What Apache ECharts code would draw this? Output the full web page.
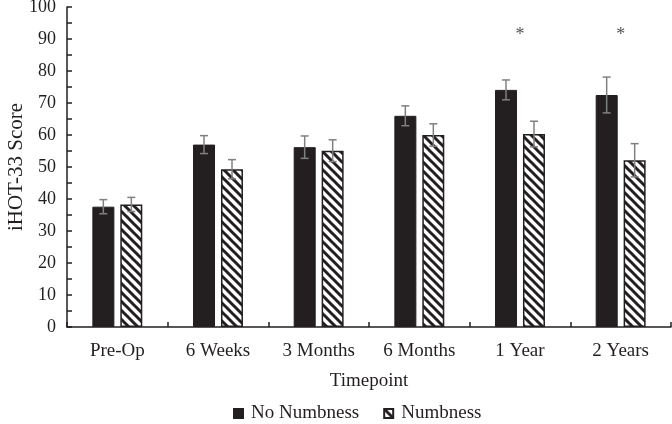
<!DOCTYPE html>
<html>
<head>
<meta charset="utf-8">
<script src="https://cdn.jsdelivr.net/npm/echarts@6/dist/echarts.min.js"></script>
<style>html,body{margin:0;padding:0;background:#fff}#c{width:672px;height:424px}</style>
</head>
<body>
<div id="c"></div>
<script>
var categories = ['Pre-Op', '6 Weeks', '3 Months', '6 Months', '1 Year', '2 Years'];
var noNumbness = [37.6, 57.0, 56.2, 66.0, 74.1, 72.5];
var noNumbnessErr = [2.2, 2.8, 3.5, 3.1, 3.1, 5.6];
var numbness = [38.3, 49.3, 55.1, 60.0, 60.3, 52.1];
var numbnessErr = [2.2, 3.0, 3.4, 3.5, 4.0, 5.2];
var significance = [null, null, null, null, '*', '*'];
var sigLevel = 92;
var yTicks = [0, 10, 20, 30, 40, 50, 60, 70, 80, 90, 100];

var FONT = '"Liberation Serif", "Times New Roman", serif';
var INK = '#231f20';

function hatch() {
  var s = 9;
  var cv = document.createElement('canvas');
  cv.width = s; cv.height = s;
  var g = cv.getContext('2d');
  g.fillStyle = '#fff'; g.fillRect(0, 0, s, s);
  g.strokeStyle = INK; g.lineWidth = 3;
  for (var k = -1; k <= 1; k++) {
    g.beginPath();
    g.moveTo(k * s - 2, -2);
    g.lineTo(k * s + s + 2, s + 2);
    g.stroke();
  }
  return cv;
}

var chart = echarts.init(document.getElementById('c'), null, {renderer: 'canvas'});

function errSeries(vals, errs, offset) {
  return {
    type: 'custom',
    silent: true,
    z: 5,
    data: vals.map(function (v, i) { return [i, v, errs[i]]; }),
    renderItem: function (params, api) {
      var i = api.value(0), v = api.value(1), e = api.value(2);
      var top = api.coord([i, v + e]);
      var bot = api.coord([i, v - e]);
      var x = top[0] + offset;
      var cap = 4;
      var st = {stroke: '#808080', lineWidth: 1.5};
      return {
        type: 'group',
        children: [
          {type: 'line', shape: {x1: x, y1: top[1], x2: x, y2: bot[1]}, style: st},
          {type: 'line', shape: {x1: x - cap, y1: top[1], x2: x + cap, y2: top[1]}, style: st},
          {type: 'line', shape: {x1: x - cap, y1: bot[1], x2: x + cap, y2: bot[1]}, style: st}
        ]
      };
    }
  };
}

var sigData = [];
significance.forEach(function (s, i) { if (s) sigData.push({value: [i, sigLevel], label: s}); });

chart.setOption({
  animation: false,
  textStyle: {fontFamily: FONT, color: INK},
  grid: {left: 67, right: 1, top: 7, bottom: 97, containLabel: false, outerBoundsMode: 'none'},
  legend: {
    top: 399,
    left: 228,
    icon: 'rect',
    itemWidth: 9,
    itemHeight: 9,
    itemGap: 24,
    textStyle: {fontFamily: FONT, fontSize: 19, color: INK, padding: [0, 0, 0, 3]},
    data: ['No Numbness', 'Numbness']
  },
  xAxis: {
    type: 'category',
    data: categories,
    name: 'Timepoint',
    nameLocation: 'middle',
    nameGap: 45,
    nameMoveOverlap: false,
    nameTextStyle: {fontFamily: FONT, fontSize: 19, color: INK},
    axisLine: {lineStyle: {color: INK, width: 1.5}},
    axisTick: {show: true, inside: true, length: 5, alignWithLabel: false, lineStyle: {color: INK, width: 1.5}},
    axisLabel: {fontFamily: FONT, fontSize: 19, color: INK, margin: 15}
  },
  yAxis: {
    type: 'value',
    min: yTicks[0],
    max: yTicks[yTicks.length - 1],
    interval: yTicks[1] - yTicks[0],
    name: 'iHOT-33 Score',
    nameLocation: 'middle',
    nameGap: 40,
    nameMoveOverlap: false,
    nameTextStyle: {fontFamily: FONT, fontSize: 21, color: INK},
    axisLine: {show: true, lineStyle: {color: INK, width: 1.5}},
    axisTick: {show: true, inside: true, length: 5, lineStyle: {color: INK, width: 1.5}},
    minorTick: {show: true, splitNumber: 2, length: 5, lineStyle: {color: INK, width: 1.5}},
    splitLine: {show: false},
    axisLabel: {fontFamily: FONT, fontSize: 18, color: INK, margin: 11}
  },
  series: [
    {
      name: 'No Numbness',
      type: 'bar',
      data: noNumbness,
      barWidth: 22,
      barGap: '27%',
      itemStyle: {color: INK, borderColor: INK, borderWidth: 1}
    },
    {
      name: 'Numbness',
      type: 'bar',
      data: numbness,
      barWidth: 22,
      itemStyle: {color: {image: hatch(), repeat: 'repeat'}, borderColor: INK, borderWidth: 1.5}
    },
    errSeries(noNumbness, noNumbnessErr, -14),
    errSeries(numbness, numbnessErr, 14),
    {
      type: 'scatter',
      silent: true,
      symbolSize: 0,
      data: sigData,
      label: {show: true, position: 'inside', offset: [0, 3], formatter: function (p) { return p.data.label; }, fontFamily: FONT, fontSize: 18, color: INK}
    }
  ]
});
</script>
</body>
</html>
